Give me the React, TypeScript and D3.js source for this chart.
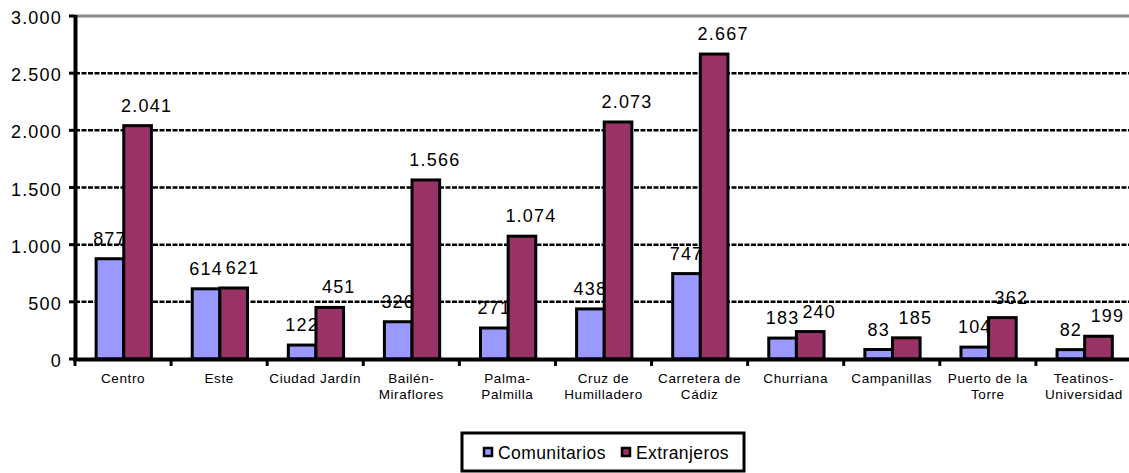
import React from "react";
import * as d3 from "d3";

const categories = [
  "Centro",
  "Este",
  "Ciudad Jardín",
  "Bailén-\nMiraflores",
  "Palma-\nPalmilla",
  "Cruz de\nHumilladero",
  "Carretera de\nCádiz",
  "Churriana",
  "Campanillas",
  "Puerto de la\nTorre",
  "Teatinos-\nUniversidad",
];
const comunitarios = [877, 614, 122, 326, 271, 438, 747, 183, 83, 104, 82];
const extranjeros = [2041, 621, 451, 1566, 1074, 2073, 2667, 240, 185, 362, 199];
const seriesNames = ["Comunitarios", "Extranjeros"];
const yTicks = [0, 500, 1000, 1500, 2000, 2500, 3000];

const W = 1129;
const H = 473;
const colors = ["#9999FF", "#993366"];
const font = "'Liberation Sans', Arial, Helvetica, sans-serif";

const fmt = (v: number) => {
  const s = String(v);
  return s.length > 3 ? s.slice(0, s.length - 3) + "." + s.slice(-3) : s;
};

export default function App() {
  const x0 = d3.scaleBand<number>().domain(d3.range(categories.length)).range([75, 1132]).padding(0);
  const bw = x0.bandwidth();
  const x1 = d3.scaleBand<number>().domain([0, 1]).range([bw * 0.22, bw * 0.795]).padding(0);
  const y = d3.scaleLinear().domain([0, 3000]).range([359, 16]);
  const series = [comunitarios, extranjeros];

  return (
    <svg width={W} height={H} style={{ position: "absolute", left: 0, top: 0, background: "#fff" }}>
      <rect x={0} y={0} width={W} height={H} fill="#fff" />
      {/* value labels (drawn beneath bars like the original) */}
      {series.map((vals, si) =>
        vals.map((v, i) => (
          <text
            key={`l${si}-${i}`}
            x={(x0(i) as number) + (x1(si) as number) + x1.bandwidth() / 2 + (si === 1 ? 9 : 0)}
            y={y(v) - 14}
            textAnchor="middle"
            fontFamily={font}
            fontSize={18}
            letterSpacing={1.2}
            fill="#000"
          >
            {fmt(v)}
          </text>
        ))
      )}
      {/* gridlines */}
      {yTicks.filter((t) => t > 0).map((t) => (
        <line
          key={`g${t}`}
          x1={75}
          x2={W}
          y1={y(t)}
          y2={y(t)}
          stroke={t === 3000 ? "#888" : "#000"}
          strokeWidth={t === 3000 ? 3 : 2.5}
          strokeDasharray={t === 3000 ? undefined : "5,1.5"}
        />
      ))}
      {/* bars */}
      {series.map((vals, si) =>
        vals.map((v, i) => (
          <rect
            key={`b${si}-${i}`}
            x={(x0(i) as number) + (x1(si) as number)}
            y={y(v)}
            width={x1.bandwidth()}
            height={y(0) - y(v)}
            fill={colors[si]}
            stroke="#000"
            strokeWidth={3}
          />
        ))
      )}
      {/* y axis */}
      <line x1={75.5} x2={75.5} y1={15} y2={361} stroke="#000" strokeWidth={4} />
      {yTicks.map((t) => (
        <g key={`yt${t}`}>
          <line x1={69} x2={75} y1={y(t)} y2={y(t)} stroke="#000" strokeWidth={3} />
          <text
            x={62}
            y={y(t) + 8}
            textAnchor="end"
            fontFamily={font}
            fontSize={18}
            letterSpacing={1.2}
            fill="#000"
          >
            {fmt(t)}
          </text>
        </g>
      ))}
      {/* x axis */}
      <line x1={73} x2={W} y1={359.5} y2={359.5} stroke="#000" strokeWidth={4} />
      {d3.range(categories.length + 1).map((i) => {
        const xx = i < categories.length ? (x0(i) as number) : 1132;
        return <line key={`xt${i}`} x1={xx} x2={xx} y1={359} y2={366} stroke="#000" strokeWidth={3} />;
      })}
      {categories.map((c, i) => (
        <text
          key={`c${i}`}
          textAnchor="middle"
          fontFamily={font}
          fontSize={13.5}
          letterSpacing={0.6}
          fill="#000"
        >
          {c.split("\n").map((line, li) => (
            <tspan key={li} x={(x0(i) as number) + bw / 2} y={383 + li * 16}>
              {line}
            </tspan>
          ))}
        </text>
      ))}
      {/* legend */}
      <rect x={462} y={433} width={282} height={38} fill="#fff" stroke="#000" strokeWidth={3} />
      {seriesNames.map((n, i) => {
        const lx = i === 0 ? 484 : 622;
        return (
          <g key={`lg${i}`}>
            <rect x={lx} y={448} width={8} height={8} fill={colors[i]} stroke="#000" strokeWidth={2.5} />
            <text x={lx + 14} y={459} fontFamily={font} fontSize={17.5} letterSpacing={0.4} fill="#000">
              {n}
            </text>
          </g>
        );
      })}
    </svg>
  );
}
